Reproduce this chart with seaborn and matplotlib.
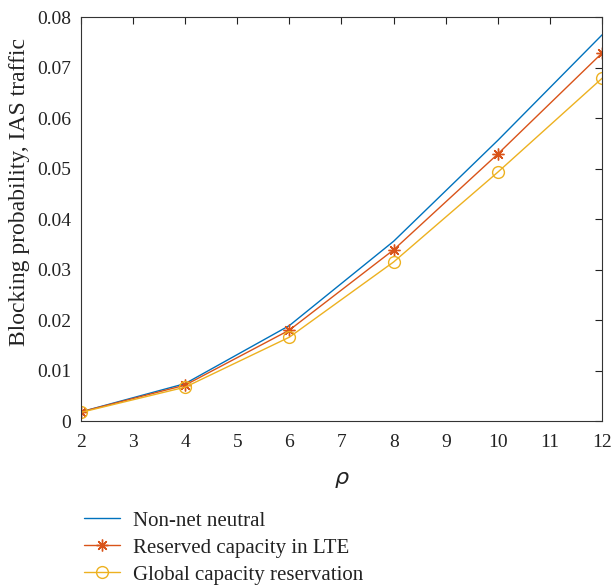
import matplotlib
matplotlib.use("Agg")
import matplotlib.pyplot as plt
import seaborn as sns
import pandas as pd
from matplotlib.ticker import FuncFormatter

rho = [2, 4, 6, 8, 10, 12]
non_net_neutral = [0.0018, 0.0074, 0.0189, 0.0356, 0.0556, 0.0765]
reserved_lte = [0.0018, 0.0071, 0.0180, 0.0339, 0.0529, 0.0729]
global_reservation = [0.0017, 0.0067, 0.0166, 0.0315, 0.0493, 0.0679]
series_names = ["Non-net neutral", "Reserved capacity in LTE", "Global capacity reservation"]

sns.set_style("white")
plt.rcParams['font.family'] = ['Liberation Serif', 'DejaVu Serif']
plt.rcParams['mathtext.fontset'] = 'dejavusans'

fig = plt.figure(figsize=(6.12, 5.88), dpi=100)
ax = fig.add_axes([0.132, 0.284, 0.852, 0.687])

colors = ["#0072BD", "#D95319", "#EDB120"]
markers = [None, (8, 2, 0), "o"]
msizes = [0, 8.5, 8.5]
for vals, name, c, m, ms in zip([non_net_neutral, reserved_lte, global_reservation],
                                series_names, colors, markers, msizes):
    df = pd.DataFrame({"rho": rho, "p": vals})
    kw = dict(marker=m, markersize=ms, markerfacecolor="none", markeredgecolor=c,
              markeredgewidth=1.0) if m else {}
    sns.lineplot(data=df, x="rho", y="p", color=c, lw=1.0, label=name, ax=ax, **kw)

ax.set_xlim(2, 12)
ax.set_ylim(0, 0.08)
ax.set_xticks(range(2, 13))
ax.set_yticks([0, 0.01, 0.02, 0.03, 0.04, 0.05, 0.06, 0.07, 0.08])
ax.yaxis.set_major_formatter(FuncFormatter(lambda v, p: "0" if v == 0 else f"{v:.2f}"))
ax.tick_params(direction="in", top=True, right=True, length=5, width=0.8,
               labelsize=14, colors="#222222", labelcolor="#222222")
ax.tick_params(axis="x", pad=9)
ax.tick_params(axis="y", pad=7)
for s in ax.spines.values():
    s.set_color("#333333")
    s.set_linewidth(0.8)
ax.set_xlabel(r"$\rho$", fontsize=16, color="#222222")
ax.xaxis.set_label_coords(0.5, -0.122)
ax.set_ylabel("Blocking probability, IAS traffic", fontsize=17, color="#222222")
ax.yaxis.set_label_coords(-0.098, 0.567)

leg = fig.legend(loc="upper left", bbox_to_anchor=(84 / 612, 1 - 511 / 588), frameon=False,
                 fontsize=15, handlelength=1.75, handletextpad=0.6, labelspacing=0.36,
                 borderaxespad=0, borderpad=0)
for t in leg.get_texts():
    t.set_color("#222222")
if ax.get_legend():
    ax.get_legend().remove()

fig.savefig("out.png", dpi=100)
